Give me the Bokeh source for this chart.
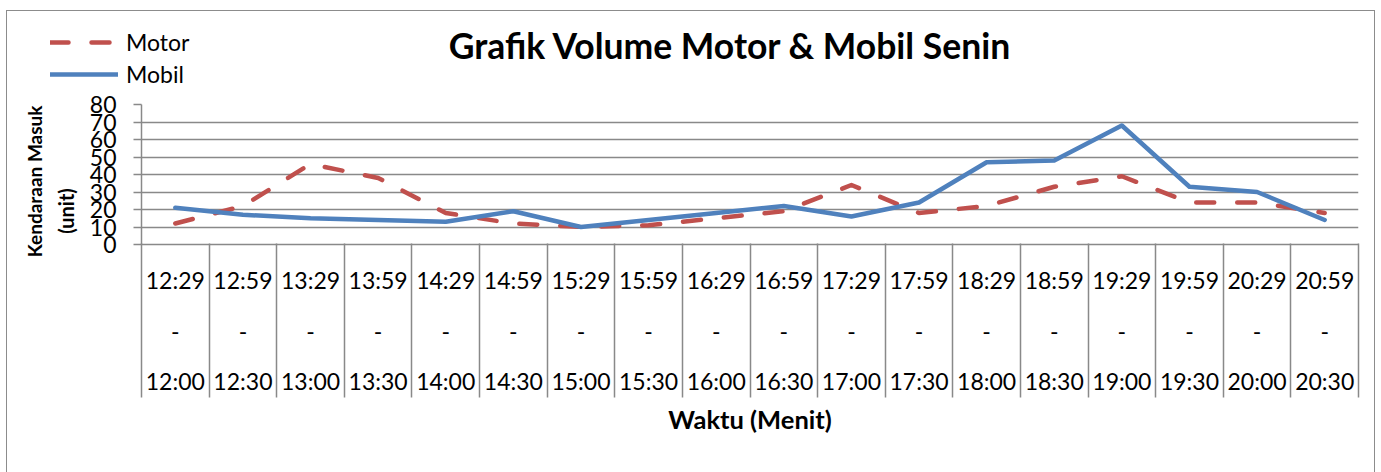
from bokeh.plotting import figure
from bokeh.layouts import column
from bokeh.models import (Range1d, LinearAxis, FixedTicker, Legend, LegendItem,
                          Grid, ColumnDataSource, Label)
from bokeh.embed import file_html
from bokeh.resources import INLINE

# ---- data ----
start_times = ["12:29", "12:59", "13:29", "13:59", "14:29", "14:59", "15:29", "15:59", "16:29",
               "16:59", "17:29", "17:59", "18:29", "18:59", "19:29", "19:59", "20:29", "20:59"]
end_times = ["12:00", "12:30", "13:00", "13:30", "14:00", "14:30", "15:00", "15:30", "16:00",
             "16:30", "17:00", "17:30", "18:00", "18:30", "19:00", "19:30", "20:00", "20:30"]
motor = [12, 22, 46, 38, 18, 12, 10, 11, 15, 19, 34, 18, 22, 33, 39, 24, 24, 18]
mobil = [21, 17, 15, 14, 13, 19, 10, 14, 18, 22, 16, 24, 47, 48, 68, 33, 30, 14]
y_ticks = [0, 10, 20, 30, 40, 50, 60, 70, 80]
series_names = ["Motor", "Mobil"]
title_text = "Grafik Volume Motor & Mobil Senin"

FONT = "Lato"
GRID = "#898989"
RED = "#C0504D"
BLUE = "#4F81BD"
W = 1367

n = len(start_times)
xs = list(range(n))
src = ColumnDataSource(dict(x=xs, motor=motor, mobil=mobil))

motor_style = dict(line_color=RED, line_width=4.5, line_dash="18 23",
                   line_cap="round", line_join="round")
mobil_style = dict(line_color=BLUE, line_width=4.5, line_cap="round", line_join="round")

# ---------- header figure: title + legend ----------
TOP_H = 79
top = figure(width=W, height=TOP_H, output_backend="svg", toolbar_location=None,
             x_range=Range1d(0, W), y_range=Range1d(0, TOP_H),
             x_axis_type=None, y_axis_type=None, min_border=0, title=None)
top.frame_align = False
top.outline_line_color = None
top.grid.visible = False

# legend proxies (no visible data)
proxy = ColumnDataSource(dict(x=[float("nan")], y=[float("nan")]))
lm = top.line("x", "y", source=proxy, **motor_style)
lb = top.line("x", "y", source=proxy, **mobil_style)
legend = Legend(items=[LegendItem(label=series_names[0], renderers=[lm]),
                       LegendItem(label=series_names[1], renderers=[lb])],
                location=(43, 0), orientation="vertical",
                glyph_width=68, glyph_height=32, label_height=32, label_standoff=8,
                spacing=0, padding=0, margin=0, border_line_color=None,
                background_fill_alpha=0, label_text_font=FONT,
                label_text_font_size="23px", label_text_color="black")
top.add_layout(legend, "center")

top.add_layout(Label(x=723, y=45.5, text=title_text, text_align="center",
                     text_baseline="alphabetic", text_font=FONT, text_font_style="bold",
                     text_font_size="35.5px", text_color="black"))

# ---------- main chart ----------
p = figure(width=W, height=382, output_backend="svg", toolbar_location=None,
           x_range=Range1d(-0.5, n - 0.5), y_range=Range1d(0, 80),
           x_axis_type=None, y_axis_type=None, title=None,
           min_border_left=134, min_border_right=16, min_border_top=14, min_border_bottom=228)
p.frame_align = False
p.outline_line_color = None
p.background_fill_color = "white"
p.border_fill_color = "white"

yaxis = LinearAxis(ticker=FixedTicker(ticks=y_ticks), axis_label="(unit)" + "\u00a0" * 15,
                   major_tick_out=8, major_tick_in=0, minor_tick_out=0, minor_tick_in=0,
                   major_label_standoff=17,
                   axis_line_color=GRID, axis_line_width=1.5,
                   major_tick_line_color=GRID, major_tick_line_width=1.5,
                   major_label_text_font=FONT, major_label_text_font_size="23px",
                   major_label_text_color="black",
                   axis_label_standoff=9, axis_label_text_font=FONT,
                   axis_label_text_font_style="bold", axis_label_text_font_size="20px",
                   axis_label_text_color="black")
p.add_layout(yaxis, "left")
yaxis2 = LinearAxis(ticker=FixedTicker(ticks=[]), axis_label="Kendaraan Masuk" + "\u00a0" * 3,
                    major_tick_out=0, major_tick_in=0, minor_tick_out=0, minor_tick_in=0,
                    major_label_text_font_size="0px", axis_line_color=None,
                    axis_label_standoff=5, axis_label_text_font=FONT,
                    axis_label_text_font_style="bold", axis_label_text_font_size="19px",
                    axis_label_text_color="black")
p.add_layout(yaxis2, "left")

p.add_layout(Grid(dimension=1, ticker=yaxis.ticker, grid_line_color=GRID, grid_line_width=1.5))


def label_axis(labels, standoff, line_color=None):
    return LinearAxis(ticker=FixedTicker(ticks=xs),
                      major_label_overrides={i: s for i, s in enumerate(labels)},
                      major_tick_out=0, major_tick_in=0, minor_tick_out=0, minor_tick_in=0,
                      major_label_standoff=standoff,
                      axis_line_color=line_color, axis_line_width=1.5,
                      major_label_text_font=FONT, major_label_text_font_size="23px",
                      major_label_text_color="black")


p.add_layout(label_axis(start_times, 21, GRID), "below")
p.add_layout(label_axis(["-"] * n, 26), "below")
p.add_layout(label_axis(end_times, 24), "below")

bounds = [i - 0.5 for i in range(n + 1)]
xd = LinearAxis(ticker=FixedTicker(ticks=bounds),
                major_label_overrides={b: "" for b in bounds},
                major_label_text_font_size="0px",
                major_tick_in=154, major_tick_out=0, minor_tick_out=0, minor_tick_in=0,
                major_tick_line_color=GRID, major_tick_line_width=1.5,
                axis_line_color=None,
                axis_label="Waktu (Menit)", axis_label_standoff=6,
                axis_label_text_font=FONT, axis_label_text_font_style="bold",
                axis_label_text_font_size="25.5px", axis_label_text_color="black")
p.add_layout(xd, "below")

p.line("x", "motor", source=src, **motor_style)
p.line("x", "mobil", source=src, **mobil_style)

layout = column(top, p, spacing=0)
layout.styles = {"margin-left": "7px", "margin-top": "11px",
                 "outline": "1.5px solid #8c8c8c"}

open("out.html", "w").write(file_html(layout, INLINE))
